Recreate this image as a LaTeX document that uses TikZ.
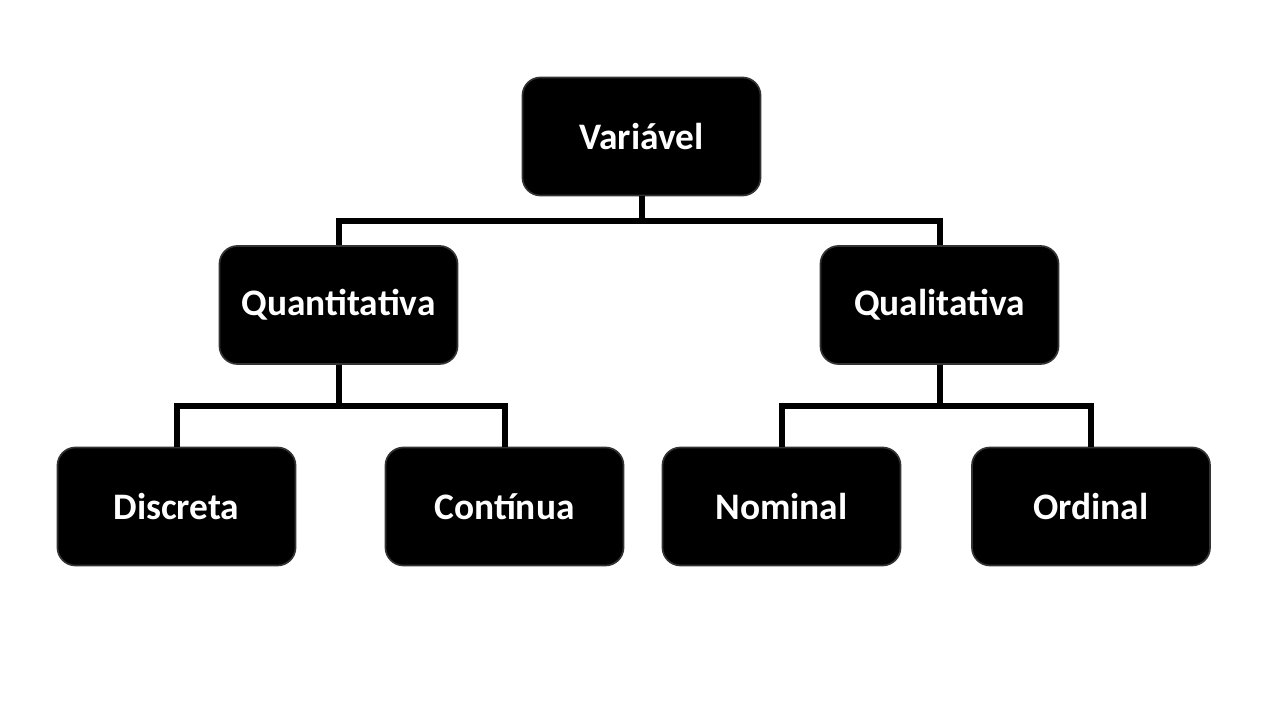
\documentclass[tikz,border=0pt]{standalone}
\usepackage{fontspec}
\setmainfont{Carlito}
\usetikzlibrary{calc}

\begin{document}
\begin{tikzpicture}[x=0.025cm,y=0.025cm,
    box/.style={
      draw=black!80,
      line width=1.2pt,
      fill=black,
      rounded corners=0.45cm,
      minimum width=5.95cm,
      minimum height=2.95cm,
      text=white,
      font=\fontsize{26.6}{31}\selectfont\bfseries
    }]
\tikzset{link/.style = {line width=0.15cm, draw=black}}
\useasboundingbox (0,0) rectangle (1280,720);
%\draw (0,0) rectangle (1280,720);
\node[box] (var) at (641.5,583.5) {Variável};
\node[box] (quant) at (338.5,415) {Quantitativa};
\node[box] (qual) at (939.5,415) {Qualitativa};
\node[box] (disc) at (176.5,213.5) {Discreta};
\node[box] (cont) at (504.5,213.5) {Contínua};
\node[box] (nom) at (781.5,213.5) {Nominal};
\node[box] (ord) at (1091,213.5) {Ordinal};
\draw[link] (var.south) -- ++(0,-25) -| (quant.north);
\draw[link] (var.south) -- ++(0,-25) -| (qual.north);
\draw[link] (quant.south) -- ++(0,-41) -| (disc.north);
\draw[link] (quant.south) -- ++(0,-41) -| (cont.north);
\draw[link] (qual.south) -- ++(0,-41) -| (nom.north);
\draw[link] (qual.south) -- ++(0,-41) -| (ord.north);
\end{tikzpicture}
\end{document}
